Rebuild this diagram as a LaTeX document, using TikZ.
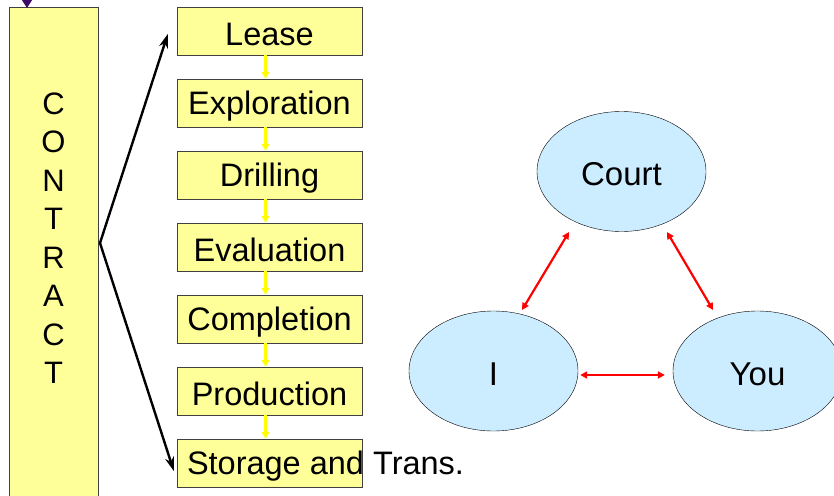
\documentclass[tikz,border=0pt]{standalone}
\usepackage{fontspec}
\setmainfont{Liberation Sans}
\usetikzlibrary{arrows.meta,shapes.geometric}
\definecolor{boxyellow}{RGB}{255,255,153}
\definecolor{ellblue}{RGB}{204,236,255}
\definecolor{darkpurple}{RGB}{60,10,100}
\definecolor{arrowyellow}{RGB}{255,255,0}
\begin{document}
\begin{tikzpicture}[x=1pt,y=-1pt,
  stagebox/.style={draw=black!75,fill=boxyellow,minimum width=185pt,minimum height=48pt,inner sep=0pt},
  stagetext/.style={inner sep=0pt,font=\fontsize{32.5}{38}\selectfont},
  party/.style={ellipse,draw=black,fill=ellblue,minimum width=169pt,minimum height=120pt,inner sep=0pt},
  partytext/.style={inner sep=0pt,font=\fontsize{33}{38}\selectfont},
  yarrow/.style={draw=arrowyellow,line width=2.6pt,-{Triangle[length=7pt,width=8pt]}},
  karrow/.style={draw=black,line width=2.4pt,-{Stealth[length=14pt,width=9pt]}},
  rarrow/.style={draw=red,line width=2.2pt,{Triangle[length=7pt,width=7pt]}-{Triangle[length=7pt,width=7pt]}}
]
\useasboundingbox (0,0) rectangle (834,495);
% contract box
\node[draw=black!75,fill=boxyellow,minimum width=89pt,minimum height=500pt,inner sep=0pt,anchor=north west] (contract) at (9,7) {};
\node[align=center,font=\fontsize{31}{38.5}\selectfont] (contracttxt) at (53.5,238) {C\\O\\N\\T\\R\\A\\C\\T};
\coordinate (ptop) at (27,-10);
\coordinate (ptip) at (27,8);
\draw[darkpurple,line width=2pt,-{Triangle[length=9pt,width=11pt]}] (ptop) -- (ptip);
% stage boxes
\node[stagebox] (lease) at (269.5,31) {};
\node[stagebox] (explor) at (269.5,103) {};
\node[stagebox] (drill) at (269.5,175) {};
\node[stagebox] (eval) at (269.5,247) {};
\node[stagebox] (compl) at (269.5,319) {};
\node[stagebox] (prod) at (269.5,391) {};
\node[stagebox] (stor) at (269.5,463) {};
\node[stagetext] (leasetxt) at ([yshift=-3pt]lease.center) {Lease};
\node[stagetext] (explortxt) at ([yshift=-3pt]explor.center) {Exploration};
\node[stagetext] (drilltxt) at ([yshift=-3pt]drill.center) {Drilling};
\node[stagetext] (evaltxt) at ([yshift=-3pt]eval.center) {Evaluation};
\node[stagetext] (compltxt) at ([yshift=-3pt]compl.center) {Completion};
\node[stagetext] (prodtxt) at ([yshift=-3pt]prod.center) {Production};
\node[stagetext,anchor=west] (stortxt) at ([xshift=10pt,yshift=-3pt]stor.west) {Storage and Trans.};
\foreach \a/\b in {lease/explor,explor/drill,drill/eval,eval/compl,compl/prod,prod/stor}
  \draw[yarrow] ([xshift=-4pt]\a.south) -- ([xshift=-4pt]\b.north);
% black arrows
\coordinate (fork) at (100,243);
\coordinate (leasein) at ([xshift=-9pt,yshift=-3pt]lease.west);
\coordinate (storin) at ([xshift=-3pt,yshift=-8pt]stor.west);
\draw[karrow] (fork) -- (leasein);
\draw[karrow] (fork) -- (storin);
% ellipses
\node[party] (court) at (621.5,171.5) {};
\node[party] (me) at (493.5,371) {};
\node[party] (you) at (757.5,371) {};
\node[partytext] (courttxt) at ([yshift=-3pt]court.center) {Court};
\node[partytext] (metxt) at ([yshift=-3pt]me.center) {I};
\node[partytext] (youtxt) at ([yshift=-3pt]you.center) {You};
\coordinate (c1) at (569,232);
\coordinate (i1) at (522,310);
\coordinate (c2) at (667,232);
\coordinate (y1) at (713,310);
\draw[rarrow] (c1) -- (i1);
\draw[rarrow] (c2) -- (y1);
\draw[rarrow] ([xshift=2pt,yshift=-4pt]me.east) -- ([xshift=-8pt,yshift=-4pt]you.west);
\end{tikzpicture}
\end{document}
